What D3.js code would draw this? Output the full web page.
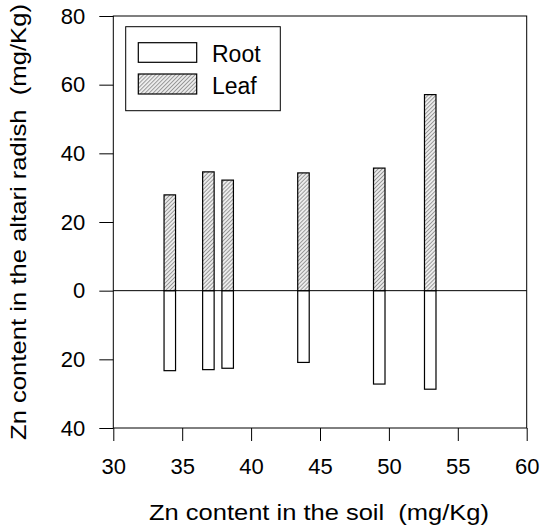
<!DOCTYPE html>
<html lang="en">
<head>
  <meta charset="UTF-8">
  <title>Zn content</title>
  <script src="https://d3js.org/d3.v7.min.js"></script>
</head>
<style>
  body { margin: 0; background: white; }
  text { font-family: "Liberation Sans", Arial, sans-serif; fill: black; }
  .frame { fill: none; stroke: black; stroke-width: 1px; }
  .root { fill: white; stroke: black; stroke-width: 1.2px; }
  .leaf { fill: url(#hatch); stroke: black; stroke-width: 1.2px; }
</style>
<body>
<svg id="chart" width="542" height="528"></svg>

<script>
  // values
  const soil = [34.1, 36.9, 38.3, 43.8, 49.3, 53.0];
  const leaf = [27.9, 34.6, 32.2, 34.3, 35.7, 57.1];
  const root = [23.3, 23.0, 22.6, 20.9, 27.2, 28.7];

  const xTicks = [30, 35, 40, 45, 50, 55, 60];
  const yTicks = [-40, -20, 0, 20, 40, 60, 80];

  let svg = d3.select("#chart");
  let plotLeft = 113.3, plotRight = 526.7, plotTop = 16, plotBottom = 428;
  let barW = 11.5;

  let x = d3.scaleLinear().domain([30, 60]).range([plotLeft, plotRight]);
  let y = d3.scaleLinear().domain([-40, 80]).range([plotBottom, plotTop]);

  // hatch for the leaf bars
  let defs = svg.append("defs");
  let pat = defs.append("pattern")
          .attr("id", "hatch")
          .attr("patternUnits", "userSpaceOnUse")
          .attr("width", 2.8).attr("height", 2.8)
          .attr("patternTransform", "rotate(45)");
  pat.append("rect").attr("width", 2.8).attr("height", 2.8).attr("fill", "#ececec");
  pat.append("line").attr("x1", 0).attr("y1", 0).attr("x2", 0).attr("y2", 2.8)
          .attr("stroke", "#4a4a4a").attr("stroke-width", 1);

  // frame
  svg.append("rect").attr("class", "frame")
          .attr("x", plotLeft).attr("y", plotTop)
          .attr("width", plotRight - plotLeft).attr("height", plotBottom - plotTop);

  // axes, ticks outward
  let xAxis = d3.axisBottom(x).tickValues(xTicks).tickSize(13);
  let yAxis = d3.axisLeft(y).tickValues(yTicks).tickSize(14).tickPadding(14)
          .tickFormat(d => Math.abs(d));

  let gx = svg.append("g").attr("transform", `translate(0,${plotBottom})`).call(xAxis);
  let gy = svg.append("g").attr("transform", `translate(${plotLeft},0)`).call(yAxis);
  [gx, gy].forEach(g => {
    g.select(".domain").remove();
    g.selectAll("text").style("font-size", "22px").attr("fill", "black");
    g.selectAll("line").attr("stroke", "black");
  });
  gx.selectAll("text").attr("dy", null).attr("y", 46);

  // zero line
  svg.append("line")
          .attr("x1", plotLeft).attr("x2", plotRight)
          .attr("y1", y(0)).attr("y2", y(0))
          .attr("stroke", "black");

  // bars
  svg.append("g").selectAll("rect")
          .data(soil).join("rect")
          .attr("class", "root")
          .attr("x", d => x(d) - barW / 2)
          .attr("width", barW)
          .attr("y", y(0))
          .attr("height", (d, i) => y(-root[i]) - y(0));

  svg.append("g").selectAll("rect")
          .data(soil).join("rect")
          .attr("class", "leaf")
          .attr("x", d => x(d) - barW / 2)
          .attr("width", barW)
          .attr("y", (d, i) => y(leaf[i]))
          .attr("height", (d, i) => y(0) - y(leaf[i]));

  // legend
  let lg = svg.append("g");
  lg.append("rect").attr("class", "frame")
          .attr("x", 125.7).attr("y", 26.7).attr("width", 154.6).attr("height", 84);
  lg.append("rect").attr("class", "root")
          .attr("x", 138.3).attr("y", 42.7).attr("width", 58.4).attr("height", 19.6);
  lg.append("rect").attr("class", "leaf")
          .attr("x", 138.3).attr("y", 74).attr("width", 58.4).attr("height", 20);
  lg.append("text").attr("x", 212).attr("y", 62).style("font-size", "23px").text("Root");
  lg.append("text").attr("x", 212).attr("y", 94).style("font-size", "23px").text("Leaf");

  // axis titles
  svg.append("text")
          .attr("x", 319).attr("y", 520)
          .attr("text-anchor", "middle")
          .style("font-size", "22px")
          .attr("xml:space", "preserve")
          .attr("textLength", 340).attr("lengthAdjust", "spacingAndGlyphs")
          .text("Zn content in the soil  (mg/Kg)");
  svg.append("text")
          .attr("transform", `translate(26,222) rotate(-90)`)
          .attr("text-anchor", "middle")
          .style("font-size", "22px")
          .attr("xml:space", "preserve")
          .attr("textLength", 436).attr("lengthAdjust", "spacingAndGlyphs")
          .text("Zn content in the altari radish  (mg/Kg)");
</script>
</body>
</html>
